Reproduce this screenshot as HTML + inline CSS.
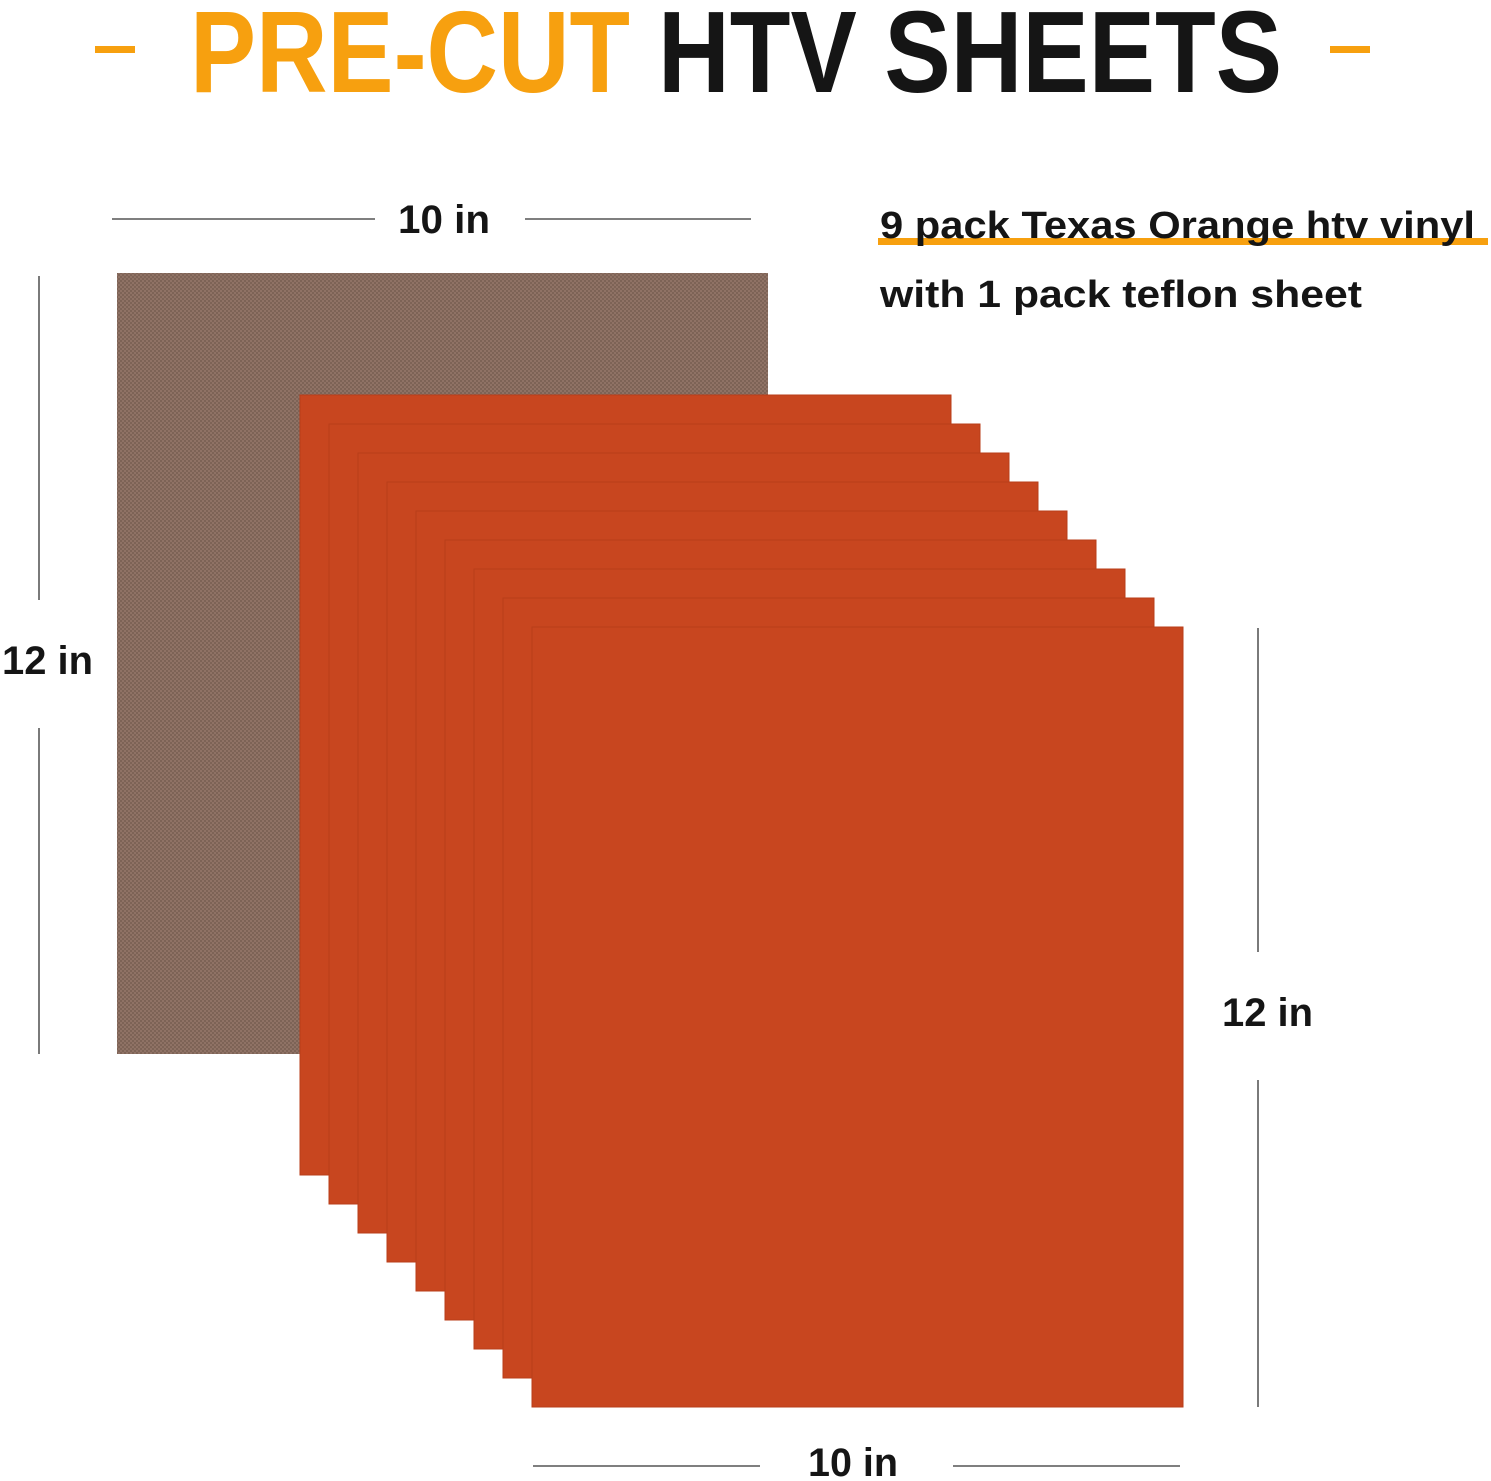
<!DOCTYPE html>
<html><head><meta charset="utf-8"><style>
html,body{margin:0;padding:0;background:#fff;}
svg{display:block;}
text{font-family:"Liberation Sans",sans-serif;font-weight:bold;}
</style></head><body>
<svg width="1491" height="1481" viewBox="0 0 1491 1481" xmlns="http://www.w3.org/2000/svg">
<defs>
<pattern id="tex" width="4" height="4" patternUnits="userSpaceOnUse">
<rect width="4" height="4" fill="#8f7265"/>
<rect width="2" height="2" fill="#7d6356"/>
<rect x="2" y="2" width="2" height="2" fill="#7d6356"/>
</pattern>
</defs>
<rect width="1491" height="1481" fill="#fff"/>
<!-- title -->
<rect x="95" y="46" width="40" height="7" fill="#F7A00F"/>
<rect x="1330" y="46" width="40" height="7" fill="#F7A00F"/>
<text x="190" y="92" font-size="116" fill="#F7A00F" textLength="440" lengthAdjust="spacingAndGlyphs">PRE-CUT</text>
<text x="658" y="92" font-size="116" fill="#151515" textLength="624" lengthAdjust="spacingAndGlyphs">HTV SHEETS</text>
<!-- dimension lines -->
<g stroke="#333" stroke-width="1.3">
<line x1="112" y1="219" x2="375" y2="219"/>
<line x1="525" y1="219" x2="751" y2="219"/>
<line x1="39" y1="276" x2="39" y2="600"/>
<line x1="39" y1="728" x2="39" y2="1054"/>
<line x1="1258" y1="628" x2="1258" y2="952"/>
<line x1="1258" y1="1080" x2="1258" y2="1407"/>
<line x1="533" y1="1466" x2="760" y2="1466"/>
<line x1="953" y1="1466" x2="1180" y2="1466"/>
</g>
<g font-size="40" fill="#151515">
<text x="398" y="233" textLength="92" lengthAdjust="spacingAndGlyphs">10 in</text>
<text x="2" y="674" textLength="91" lengthAdjust="spacingAndGlyphs">12 in</text>
<text x="1222" y="1026" textLength="91" lengthAdjust="spacingAndGlyphs">12 in</text>
<text x="808" y="1476" textLength="90" lengthAdjust="spacingAndGlyphs">10 in</text>
</g>
<!-- right text -->
<rect x="878" y="238" width="610" height="7" fill="#F7A00F"/>
<text x="880" y="238" font-size="38" fill="#151515" textLength="595" lengthAdjust="spacingAndGlyphs">9 pack Texas Orange htv vinyl</text>
<text x="880" y="307" font-size="38" fill="#151515" textLength="482" lengthAdjust="spacingAndGlyphs">with 1 pack teflon sheet</text>
<!-- brown sheet -->
<rect x="117" y="273" width="651" height="781" fill="url(#tex)"/>
<!-- orange sheets -->
<g fill="#C8461F" stroke="#b83e1a" stroke-width="1">
<rect x="300" y="395" width="651" height="780"/>
<rect x="329" y="424" width="651" height="780"/>
<rect x="358" y="453" width="651" height="780"/>
<rect x="387" y="482" width="651" height="780"/>
<rect x="416" y="511" width="651" height="780"/>
<rect x="445" y="540" width="651" height="780"/>
<rect x="474" y="569" width="651" height="780"/>
<rect x="503" y="598" width="651" height="780"/>
<rect x="532" y="627" width="651" height="780"/>
</g>
</svg>
</body></html>
